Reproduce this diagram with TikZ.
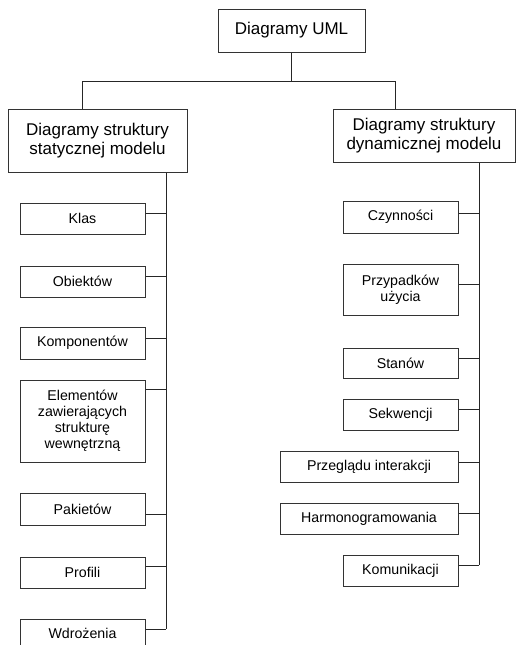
\documentclass[tikz,border=0pt]{standalone}
\usepackage{fontspec}
\setmainfont{Liberation Sans}
\usetikzlibrary{positioning, calc}
\tikzset{
    % styl glownych prostokatow
    glowny/.style={
           rectangle,
           draw=black!80, line width=1pt,
           inner sep=0pt,
           align=center,
           font=\fontsize{17}{19.5}\selectfont},
    % styl prostokatow podrzednych
    lisc/.style={
           rectangle,
           draw=black!80, line width=1pt,
           inner sep=0pt,
           align=center,
           font=\fontsize{14.2}{16}\selectfont},
    % styl linii
    lacz/.style={
           -,
           draw=black!85,
           line width=1pt}
}
\begin{document}
\begin{tikzpicture}[x=1pt, y=-1pt]
	\clip (0,0) rectangle (516,645);
	%
	% wezly
	%
	\node[glowny, minimum width=147, minimum height=43] (uml) at (291.5,30.5) {Diagramy UML};
	\node[glowny, minimum width=179, minimum height=63] (stat) at (97.5,140.5) {Diagramy struktury\\statycznej modelu};
	\node[glowny, minimum width=182, minimum height=53] (dyn) at (424,135.5) {Diagramy struktury\\dynamicznej modelu};
	%
	\node[lisc, minimum width=125, minimum height=31] (klas) at (82.5,218.5) {Klas};
	\node[lisc, minimum width=125, minimum height=31] (obiekt) at (82.5,281.5) {Obiektów};
	\node[lisc, minimum width=125, minimum height=32] (kompon) at (82.5,343) {Komponentów};
	\node[lisc, minimum width=125, minimum height=82] (element) at (82.5,421) {Elementów\\zawierających\\strukturę\\wewnętrzną};
	\node[lisc, minimum width=125, minimum height=32] (pakiet) at (82.5,509) {Pakietów};
	\node[lisc, minimum width=125, minimum height=31] (profil) at (82.5,572.5) {Profili};
	\node[lisc, minimum width=125, minimum height=31, anchor=north] (wdroz) at (82.5,619) {Wdrożenia\vphantom{p}};
	%
	\node[lisc, minimum width=115, minimum height=32] (czynn) at (400.5,217) {Czynności};
	\node[lisc, minimum width=115, minimum height=51] (przyp) at (400.5,289.5) {Przypadków\\użycia};
	\node[lisc, minimum width=115, minimum height=30] (stan) at (400.5,363) {Stanów};
	\node[lisc, minimum width=115, minimum height=31] (sekw) at (400.5,414.5) {Sekwencji};
	\node[lisc, minimum width=178, minimum height=31] (przegl) at (369,466.5) {Przeglądu interakcji};
	\node[lisc, minimum width=178, minimum height=31] (harmon) at (369,518.5) {Harmonogramowania};
	\node[lisc, minimum width=115, minimum height=31] (komun) at (400.5,570.5) {Komunikacji};
	%
	% linie
	%
	\coordinate (szyna) at (0,81);
	\coordinate (osL) at (166,0);
	\coordinate (osP) at (479,0);
	\draw[lacz] (uml.south) -- (uml.south |- szyna);
	\draw[lacz] (stat.north -| 82,0) -- (82,81) -- (395,81) -- (dyn.north -| 395,0);
	%
	\draw[lacz] (stat.south -| osL) -- (osL |- 0,629);
	\foreach \n/\y in {klas/213, obiekt/276, kompon/338, element/389, pakiet/514, profil/566, wdroz/629}
		\draw[lacz] (\n.east |- 0,\y) -- (osL |- 0,\y);
	%
	\draw[lacz] (dyn.south -| osP) -- (osP |- 0,565);
	\foreach \n/\y in {czynn/213, przyp/284, stan/358, sekw/409, przegl/462, harmon/513, komun/565}
		\draw[lacz] (\n.east |- 0,\y) -- (osP |- 0,\y);
\end{tikzpicture}
\end{document}
